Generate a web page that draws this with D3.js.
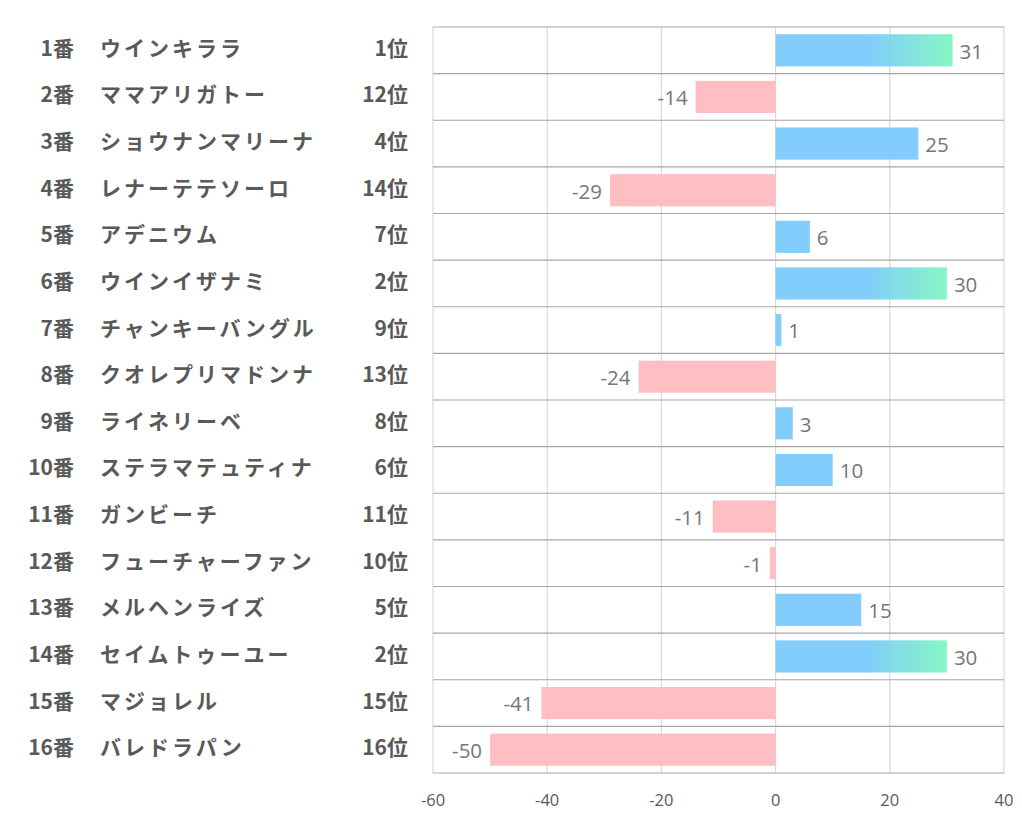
<!DOCTYPE html>
<html><head><meta charset="utf-8">
<script src="https://cdn.jsdelivr.net/npm/d3@7/dist/d3.min.js"></script>
<style>
html,body{margin:0;padding:0;background:#fff;}
svg{display:block;}
</style></head>
<body>
<svg id="chart" width="1022" height="834"></svg>
<script>
const numbers = ["1番","2番","3番","4番","5番","6番","7番","8番","9番","10番","11番","12番","13番","14番","15番","16番"];
const names = ["ウインキララ","ママアリガトー","ショウナンマリーナ","レナーテテソーロ","アデニウム","ウインイザナミ","チャンキーバングル","クオレプリマドンナ","ライネリーベ","ステラマテュティナ","ガンビーチ","フューチャーファン","メルヘンライズ","セイムトゥーユー","マジョレル","バレドラパン"];
const ranks = ["1位","12位","4位","14位","7位","2位","9位","13位","8位","6位","11位","10位","5位","2位","15位","16位"];
const values = [31,-14,25,-29,6,30,1,-24,3,10,-11,-1,15,30,-41,-50];
const xTicks = [-60,-40,-20,0,20,40];

const svg = d3.select("#chart");
const L = 433, R = 1004, T = 27, B = 773;
const x = d3.scaleLinear().domain([-60,40]).range([L,R]);
const y = d3.scaleBand().domain(d3.range(values.length)).range([T,B]).paddingInner(0.31).paddingOuter(0.155);
const rowH = (B-T)/values.length;

const defs = svg.append("defs");
const grad = defs.append("linearGradient").attr("id","topGrad").attr("x1","0").attr("x2","1").attr("y1","0").attr("y2","0");
grad.append("stop").attr("offset","0.53").attr("stop-color","#78c9fb");
grad.append("stop").attr("offset","1").attr("stop-color","#7ef6bf");

// vertical gridlines
svg.append("g").selectAll("line").data(xTicks).join("line")
  .attr("x1",d=>x(d)).attr("x2",d=>x(d)).attr("y1",T).attr("y2",B)
  .attr("stroke","#d9d9d9").attr("stroke-width",1.2);

// horizontal row lines
svg.append("g").selectAll("line").data(d3.range(values.length+1)).join("line")
  .attr("x1",L).attr("x2",R).attr("y1",i=>T+i*rowH).attr("y2",i=>T+i*rowH)
  .attr("stroke","#a6a6a6").attr("stroke-width",1.2);

// bars
svg.append("g").selectAll("rect").data(values).join("rect")
  .attr("x",d=>x(Math.min(0,d)))
  .attr("width",d=>Math.abs(x(d)-x(0)))
  .attr("y",(d,i)=>y(i))
  .attr("height",y.bandwidth())
  .attr("fill",(d,i)=> (ranks[i]==="1位"||ranks[i]==="2位") ? "url(#topGrad)" : (d>=0 ? "#78c9fb" : "#ffb9bc"))
  .attr("opacity",0.93);

// value labels
svg.append("g").selectAll("text").data(values).join("text")
  .attr("x",d=> d>=0 ? x(d)+7 : x(d)-8)
  .attr("y",(d,i)=>y(i)+y.bandwidth()/2+1)
  .attr("dy","0.36em")
  .attr("text-anchor",d=> d>=0 ? "start":"end")
  .attr("font-family","'Open Sans','Noto Sans',sans-serif")
  .attr("font-size",20.5).attr("fill","#767676")
  .text(d=>d);

// x axis labels
svg.append("g").selectAll("text").data(xTicks).join("text")
  .attr("x",d=>x(d)).attr("y",800).attr("dy","0.36em")
  .attr("text-anchor","middle")
  .attr("font-family","'Open Sans','Noto Sans',sans-serif")
  .attr("font-size",16.5).attr("fill","#595959")
  .text(d=>d);

// left labels
const lab = svg.append("g").attr("font-family","'Noto Sans CJK JP',sans-serif")
  .attr("font-weight","bold").attr("fill","#595959").attr("font-size",21);
lab.selectAll("text.num").data(numbers).join("text").attr("class","num")
  .attr("x",74).attr("y",(d,i)=>T+i*rowH+rowH/2-2).attr("dy","0.36em")
  .attr("text-anchor","end").text(d=>d);
lab.selectAll("text.name").data(names).join("text").attr("class","name")
  .attr("x",100).attr("y",(d,i)=>T+i*rowH+rowH/2-2).attr("dy","0.36em")
  .attr("letter-spacing","3px").text(d=>d);
lab.selectAll("text.rank").data(ranks).join("text").attr("class","rank")
  .attr("x",408).attr("y",(d,i)=>T+i*rowH+rowH/2-2).attr("dy","0.36em")
  .attr("text-anchor","end").text(d=>d);
</script>
</body></html>
